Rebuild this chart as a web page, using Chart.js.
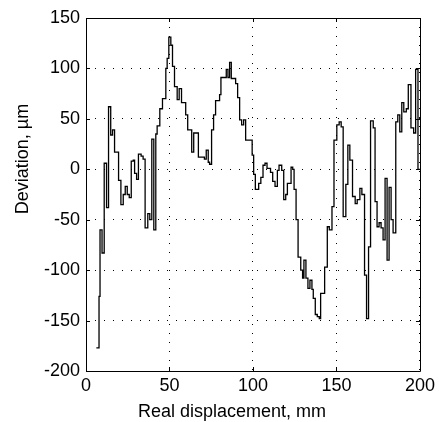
<!DOCTYPE html>
<html>
<head>
<meta charset="UTF-8">
<title>Deviation vs displacement</title>
<script src="https://cdn.jsdelivr.net/npm/chart.js"></script>
<style>
    body { margin: 0; background: #fff; }
</style>
</head>
<body>
<canvas id="grafico" width="439" height="422"></canvas>

<script>
    // posicoes (mm) onde cada degrau comeca, e o desvio (um) daquele degrau
    const positionMm = [6.2, 7.8, 8.4, 9.6, 10.9, 12.3, 13.5, 14.8, 15.9, 17.1, 19.5, 20.9, 22.3, 23.5, 24.7, 25.9,
        27.1, 28.3, 29.1, 30.3, 31.4, 33.0, 34.2, 35.4, 37.0, 38.2, 39.4, 40.6, 41.8, 42.6, 44.2, 45.8,
        47.8, 48.6, 49.6, 50.8, 51.8, 53.0, 54.6, 55.8, 57.2, 59.7, 60.9, 63.3, 64.5, 67.3, 70.9, 72.0,
        73.2, 74.0, 75.2, 76.4, 77.6, 80.0, 80.8, 84.0, 85.0, 86.0, 87.0, 89.6, 90.8, 92.0, 93.2, 94.4,
        95.6, 99.5, 100.4, 101.4, 103.4, 104.7, 106.0, 107.2, 108.4, 110.5, 111.8, 113.2, 114.6, 115.6,
        117.2, 118.4, 119.6, 120.6, 122.8, 123.8, 124.6, 125.8, 127.0, 128.6, 129.7, 130.5, 131.7, 132.9,
        134.1, 135.3, 136.1, 137.3, 138.5, 139.7, 140.5, 142.9, 144.5, 145.7, 147.3, 148.5, 150.2, 151.6,
        152.8, 154.0, 155.6, 156.8, 158.0, 159.6, 161.2, 162.4, 164.0, 165.2, 166.8, 168.0, 169.2, 170.4,
        172.0, 173.1, 174.3, 175.5, 176.7, 177.9, 179.1, 180.3, 181.5, 182.7, 183.9, 185.5, 186.7, 187.9,
        189.1, 190.3, 191.8, 193.0, 194.6, 196.2, 197.4, 198.8, 200];
    const deviationUm = [-177, -126, -60, -83, 6, -38, 62, 34, 39, 17, -11, -35, -25, -17, -25, -28,
        8, 9, -4, -10, 15, 13, 10, -58, -44, -50, 30, -60, 35, 43, 60, 70,
        100, 110, 131, 123, 102, 82, 69, 80, 66, 54, 39, 17, 36, 12, 10, 19,
        7, 5, 39, 54, 68, 74, 91, 99, 91, 106, 90, 85, 71, 49, 44, 49,
        29, 14, -5, -20, -14, -8, 4, 6, 1, -3, -12, -17, -1, 4,
        -1, -30, -25, -14, 2, 0, -20, -50, -87, -100, -108, -90, -108, -118,
        -110, -119, -128, -144, -146, -148, -123, -97, -57, -60, -37, 29, 44, 47,
        42, -47, -15, 24, 9, -27, -34, -30, -19, -25, -105, -148, -77, 48,
        41, -32, -57, -53, -58, -70, -9, -90, -18, -50, -63, 47, 54, 37,
        66, 57, 60, 84, 41, 36, 99, 0, 0];

    const xTicks = [0, 50, 100, 150, 200];
    const yTicks = [-200, -150, -100, -50, 0, 50, 100, 150];

    const fonte = 'Liberation Sans, Arial, Helvetica, sans-serif';

    // caixa em volta do grafico + tracinhos para dentro (estilo matlab) + titulos dos eixos
    const caixaPlugin = {
        id: 'caixa',
        afterDatasetsDraw(chart) {
            const ctx = chart.ctx;
            const a = chart.chartArea;
            const sx = chart.scales.x;
            const sy = chart.scales.y;
            const t = 4;
            ctx.save();
            ctx.strokeStyle = '#000';
            ctx.lineWidth = 1;
            ctx.beginPath();
            ctx.rect(Math.round(a.left) + 0.5, Math.round(a.top) + 0.5,
                Math.round(a.right - a.left), Math.round(a.bottom - a.top));
            for (const v of xTicks) {
                const px = Math.round(sx.getPixelForValue(v)) + 0.5;
                ctx.moveTo(px, a.bottom); ctx.lineTo(px, a.bottom - t);
                ctx.moveTo(px, a.top); ctx.lineTo(px, a.top + t);
            }
            for (const v of yTicks) {
                const py = Math.round(sy.getPixelForValue(v)) + 0.5;
                ctx.moveTo(a.left, py); ctx.lineTo(a.left + t, py);
                ctx.moveTo(a.right, py); ctx.lineTo(a.right - t, py);
            }
            ctx.stroke();
            ctx.restore();
        },
        afterDraw(chart) {
            const ctx = chart.ctx;
            ctx.save();
            ctx.fillStyle = '#000';
            ctx.font = '18px ' + fonte;
            ctx.textAlign = 'center';
            ctx.textBaseline = 'alphabetic';
            ctx.fillText('Real displacement, mm', 232, 417);
            ctx.translate(28, 159);
            ctx.rotate(-Math.PI / 2);
            ctx.fillText('Deviation, \u00b5m', 0, 0);
            ctx.restore();
        }
    };

    const pontos = positionMm.map((x, i) => ({ x: x, y: deviationUm[i] }));

    const config = {
        type: 'line',
        data: {
            datasets: [{
                data: pontos,
                stepped: 'before',
                borderColor: '#000',
                borderWidth: 1.3,
                pointRadius: 0,
                fill: false
            }]
        },
        options: {
            responsive: false,
            devicePixelRatio: 1,
            animation: false,
            layout: { padding: { left: 0, top: 18, right: 18, bottom: 0 } },
            plugins: { legend: { display: false }, tooltip: { enabled: false } },
            scales: {
                x: {
                    type: 'linear',
                    min: 0,
                    max: 200,
                    afterBuildTicks: (s) => { s.ticks = xTicks.map(v => ({ value: v })); },
                    afterFit: (s) => { s.height = 51; },
                    grid: { color: '#000', lineWidth: 1, drawTicks: false },
                    border: { display: false, dash: [1, 8] },
                    ticks: { color: '#000', font: { family: fonte, size: 18 }, padding: 4, maxRotation: 0 }
                },
                y: {
                    type: 'linear',
                    min: -200,
                    max: 150,
                    afterBuildTicks: (s) => { s.ticks = yTicks.map(v => ({ value: v })); },
                    afterFit: (s) => { s.width = 86; },
                    grid: { color: '#000', lineWidth: 1, drawTicks: false },
                    border: { display: false, dash: [1, 8] },
                    ticks: { color: '#000', font: { family: fonte, size: 18 }, padding: 6 }
                }
            }
        },
        plugins: [caixaPlugin]
    };

    let myChart = new Chart(document.getElementById('grafico'), config);
</script>
</body>
</html>
